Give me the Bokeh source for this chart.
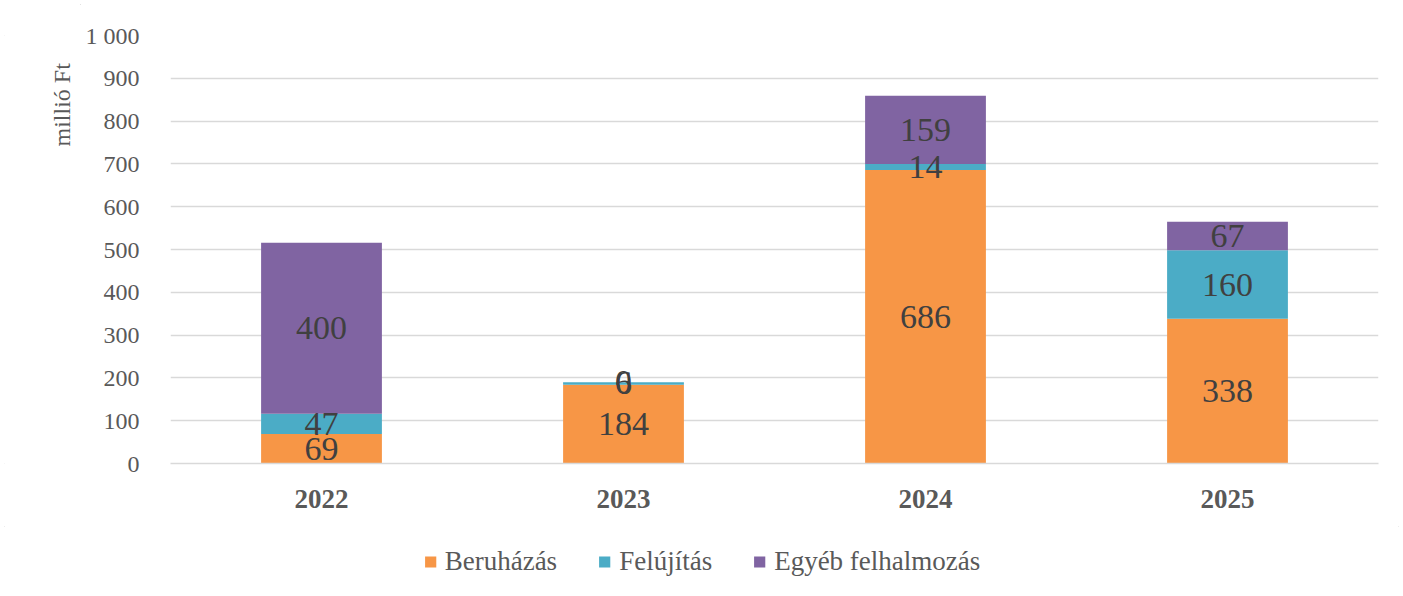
from bokeh.plotting import figure
from bokeh.layouts import column, row
from bokeh.models import ColumnDataSource, FactorRange, FixedTicker, LabelSet, Legend, Label
from bokeh.embed import file_html
from bokeh.resources import INLINE
import math

years = ["2022", "2023", "2024", "2025"]
series = ["Beruházás", "Felújítás", "Egyéb felhalmozás"]
beruhazas = [69, 184, 686, 338]
felujitas = [47, 6, 14, 160]
egyeb = [400, 0, 159, 67]
colors = ["#F79646", "#4BACC6", "#8064A2"]
y_ticks = [0, 100, 200, 300, 400, 500, 600, 700, 800, 900, 1000]
y_title = "millió Ft"

FONT = "Liberation Serif"
CHART_H = 526
TITLE_W = 80

data = {"year": years, series[0]: beruhazas, series[1]: felujitas, series[2]: egyeb}
src = ColumnDataSource(data)

p = figure(x_range=FactorRange(*years), y_range=(0, 1000), width=1403 - TITLE_W, height=CHART_H,
           output_backend="svg", toolbar_location=None,
           min_border_left=170 - TITLE_W, min_border_right=25, min_border_top=35, min_border_bottom=63)
p.outline_line_color = None
p.background_fill_color = "white"

renderers = p.vbar_stack(series, x="year", width=0.4, source=src, color=colors, line_color=None)

bottoms = [0, 0, 0, 0]
for name, vals in zip(series, [beruhazas, felujitas, egyeb]):
    mids = [b + v / 2 for b, v in zip(bottoms, vals)]
    ls = ColumnDataSource({"x": years, "y": mids, "t": [str(v) for v in vals]})
    p.add_layout(LabelSet(x="x", y="y", text="t", source=ls, text_align="center",
                          text_baseline="middle", text_font=FONT, text_font_size="34px",
                          text_color="#404040"))
    bottoms = [b + v for b, v in zip(bottoms, vals)]

p.yaxis.ticker = FixedTicker(ticks=y_ticks)
p.yaxis.major_label_overrides = {1000: "1 000"}
p.yaxis.axis_line_color = None
p.yaxis.major_tick_line_color = None
p.yaxis.minor_tick_line_color = None
p.yaxis.major_label_text_font = FONT
p.yaxis.major_label_text_font_size = "24px"
p.yaxis.major_label_text_color = "#595959"
p.yaxis.major_label_standoff = 25

p.xaxis.axis_line_color = "#D9D9D9"
p.xaxis.axis_line_width = 1.5
p.xaxis.major_tick_line_color = None
p.xaxis.major_label_text_font = FONT
p.xaxis.major_label_text_font_size = "27px"
p.xaxis.major_label_text_font_style = "bold"
p.xaxis.major_label_text_color = "#595959"
p.xaxis.major_label_standoff = 20

p.xgrid.grid_line_color = None
p.ygrid.grid_line_color = "#D9D9D9"
p.ygrid.grid_line_width = 1.5

# y-axis title strip at the left
pt = figure(width=TITLE_W, height=CHART_H, output_backend="svg", toolbar_location=None,
            x_axis_type=None, y_axis_type=None, min_border=0,
            x_range=(0, TITLE_W), y_range=(0, CHART_H))
pt.outline_line_color = None
pt.xgrid.grid_line_color = None
pt.ygrid.grid_line_color = None
pt.add_layout(Label(x=61, y=CHART_H - 34, text=y_title, angle=math.pi / 2,
                    text_align="right", text_baseline="middle",
                    text_font=FONT, text_font_size="24px", text_color="#595959"))

# legend strip below the chart
pl = figure(width=1403, height=596 - CHART_H, output_backend="svg", toolbar_location=None,
            x_axis_type=None, y_axis_type=None, min_border=0,
            x_range=(0, 1), y_range=(0, 1))
pl.outline_line_color = None
pl.xgrid.grid_line_color = None
pl.ygrid.grid_line_color = None
swatch = ColumnDataSource({"x": [0], "top": [0]})
legend_renderers = [pl.vbar(x="x", top="top", width=0, source=swatch, color=c, line_color=None)
                    for c in colors]
legend = Legend(items=[(s, [r]) for s, r in zip(series, legend_renderers)],
                orientation="horizontal", location="center",
                label_text_font=FONT, label_text_font_size="27px", label_text_color="#595959",
                glyph_width=14, glyph_height=14, spacing=40, label_standoff=8,
                border_line_color=None, background_fill_alpha=0, margin=0, padding=5)
pl.add_layout(legend, "center")

layout = column(row(pt, p, spacing=0), pl, spacing=0)
layout.styles = {"outline": "1px solid #D9D9D9", "outline-offset": "-5px"}
open("out.html", "w").write(file_html(layout, INLINE))
